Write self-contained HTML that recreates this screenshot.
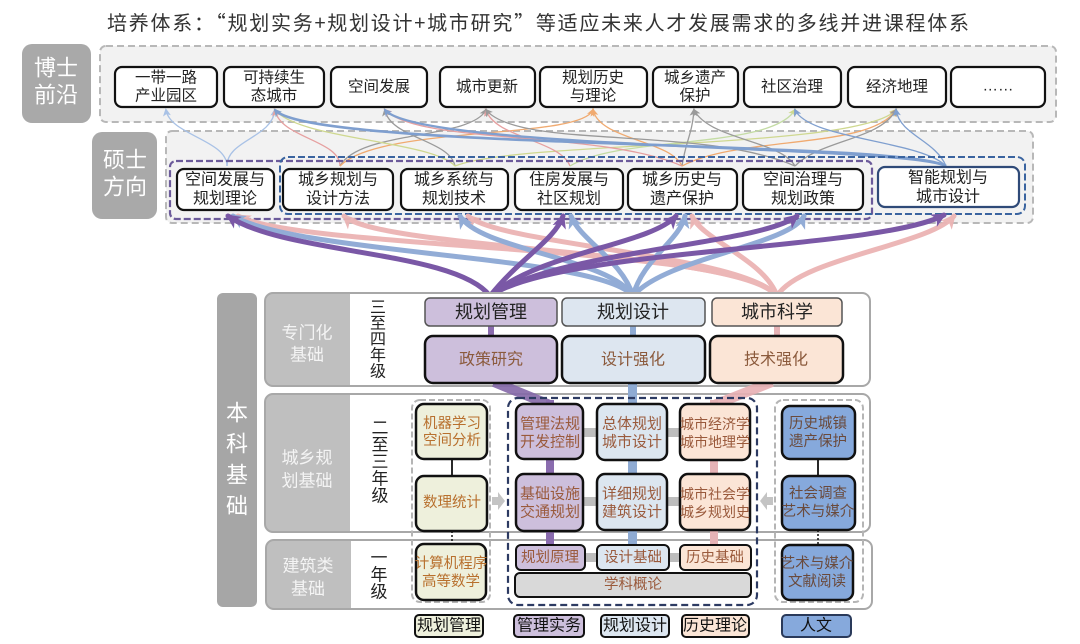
<!DOCTYPE html>
<html><head><meta charset="utf-8"><style>
html,body{margin:0;padding:0;background:#fff;}
svg{display:block;}
</style></head><body>
<svg width="1080" height="644" viewBox="0 0 1080 644" xmlns="http://www.w3.org/2000/svg" font-family="'Liberation Sans','Noto Sans CJK SC',sans-serif">
<defs>
<marker id="ap" markerUnits="userSpaceOnUse" markerWidth="18" markerHeight="18" refX="12" refY="8" orient="auto"><path d="M0,1 L15,8 L0,15 L4,8 z" fill="#7a58a6"/></marker>
<marker id="ab" markerUnits="userSpaceOnUse" markerWidth="18" markerHeight="18" refX="12" refY="8" orient="auto"><path d="M0,1 L15,8 L0,15 L4,8 z" fill="#92acd6"/></marker>
<marker id="ak" markerUnits="userSpaceOnUse" markerWidth="18" markerHeight="18" refX="12" refY="8" orient="auto"><path d="M0,1 L15,8 L0,15 L4,8 z" fill="#ebb4b4"/></marker>
<marker id="mlb" markerUnits="userSpaceOnUse" markerWidth="9" markerHeight="9" refX="6" refY="4" orient="auto"><path d="M0,0 L8,4 L0,8 L2,4 z" fill="#a9c2e6"/></marker>
<marker id="mpk" markerUnits="userSpaceOnUse" markerWidth="9" markerHeight="9" refX="6" refY="4" orient="auto"><path d="M0,0 L8,4 L0,8 L2,4 z" fill="#e6a0a0"/></marker>
<marker id="mor" markerUnits="userSpaceOnUse" markerWidth="9" markerHeight="9" refX="6" refY="4" orient="auto"><path d="M0,0 L8,4 L0,8 L2,4 z" fill="#f0aa70"/></marker>
<marker id="mgr" markerUnits="userSpaceOnUse" markerWidth="9" markerHeight="9" refX="6" refY="4" orient="auto"><path d="M0,0 L8,4 L0,8 L2,4 z" fill="#9a9a9a"/></marker>
<marker id="myg" markerUnits="userSpaceOnUse" markerWidth="9" markerHeight="9" refX="6" refY="4" orient="auto"><path d="M0,0 L8,4 L0,8 L2,4 z" fill="#cfd890"/></marker>
<marker id="mbl" markerUnits="userSpaceOnUse" markerWidth="9" markerHeight="9" refX="6" refY="4" orient="auto"><path d="M0,0 L8,4 L0,8 L2,4 z" fill="#7f9fcf"/></marker>
</defs>
<rect x="0" y="0" width="1080" height="644" fill="#fff"/>

<!-- Title -->
<text x="538" y="30" font-size="20" fill="#333" text-anchor="middle" textLength="862" lengthAdjust="spacing" font-family="'Noto Sans CJK SC',sans-serif">培养体系：“规划实务+规划设计+城市研究”等适应未来人才发展需求的多线并进课程体系</text>

<!-- 博士 -->
<rect x="22" y="44" width="69" height="79" rx="10" fill="#a9a9a9"/>
<text x="56" y="68" font-size="22" fill="#fff" text-anchor="middle" dominant-baseline="central">博士</text>
<text x="56" y="95" font-size="22" fill="#fff" text-anchor="middle" dominant-baseline="central">前沿</text>
<rect x="100" y="46" width="956" height="76" rx="6" fill="#f2f2f2" stroke="#b8b8b8" stroke-width="2" stroke-dasharray="7 4"/>

<!-- 硕士 -->
<rect x="92" y="132" width="65" height="87" rx="10" fill="#a9a9a9"/>
<text x="125" y="160" font-size="22" fill="#fff" text-anchor="middle" dominant-baseline="central">硕士</text>
<text x="125" y="187" font-size="22" fill="#fff" text-anchor="middle" dominant-baseline="central">方向</text>
<rect x="166" y="131" width="867" height="92" rx="6" fill="#f2f2f2" stroke="#b8b8b8" stroke-width="2" stroke-dasharray="7 4"/>

<!-- thin curves between 硕士 and 博士 -->
<g fill="none" stroke-width="1.3">
<path d="M227,166 C227,140 170,135 166,110" stroke="#a9c2e6" marker-end="url(#mlb)"/>
<path d="M227,166 C227,140 272,138 275,110" stroke="#a9c2e6" marker-end="url(#mlb)"/>
<path d="M340,166 C340,140 280,138 275,110" stroke="#e6a0a0" marker-end="url(#mpk)"/>
<path d="M340,166 C360,130 470,140 486,110" stroke="#9a9a9a" marker-end="url(#mgr)"/>
<path d="M340,166 C380,125 580,140 593,110" stroke="#f0aa70" marker-end="url(#mor)"/>
<path d="M455,166 C450,140 390,138 385,110" stroke="#9a9a9a" marker-end="url(#mgr)"/>
<path d="M455,166 C430,140 300,140 275,110" stroke="#cfd890" marker-end="url(#myg)"/>
<path d="M455,166 C520,140 860,150 896,110" stroke="#cfd890" marker-end="url(#myg)"/>
<path d="M570,166 C560,140 495,138 486,110" stroke="#e6a0a0" marker-end="url(#mpk)"/>
<path d="M570,166 C620,135 770,150 795,110" stroke="#c4dca4" marker-end="url(#myg)"/>
<path d="M682,166 C670,140 600,140 593,110" stroke="#f0aa70" marker-end="url(#mor)"/>
<path d="M682,166 C686,140 692,135 694,110" stroke="#9a9a9a" marker-end="url(#mgr)"/>
<path d="M682,166 C600,130 420,145 385,110" stroke="#e6a0a0" marker-end="url(#mpk)"/>
<path d="M682,166 C740,135 870,150 896,110" stroke="#f0aa70" marker-end="url(#mor)"/>
<path d="M795,166 C780,140 710,140 694,110" stroke="#9a9a9a" marker-end="url(#mgr)"/>
<path d="M795,166 C700,125 520,150 486,110" stroke="#9a9a9a" marker-end="url(#mgr)"/>
<path d="M795,166 C820,140 880,140 896,110" stroke="#9a9a9a" marker-end="url(#mgr)"/>
<path d="M946,166 C900,140 310,150 275,110" stroke="#7f9fcf" stroke-width="2.6" marker-end="url(#mbl)"/>
<path d="M946,166 C900,145 420,150 385,110" stroke="#7f9fcf" stroke-width="2.4" marker-end="url(#mbl)"/>
<path d="M946,166 C920,140 810,140 795,110" stroke="#7f9fcf" marker-end="url(#mbl)"/>
<path d="M946,166 C935,140 900,135 896,110" stroke="#7f9fcf" marker-end="url(#mbl)"/>
</g>

<!-- 博士 boxes -->
<g fill="#fff" stroke="#111" stroke-width="2.2">
<rect x="115" y="67" width="102" height="40" rx="7"/>
<rect x="224" y="67" width="100" height="40" rx="7"/>
<rect x="331" y="67" width="96" height="40" rx="7"/>
<rect x="440" y="67" width="95" height="40" rx="7"/>
<rect x="540" y="67" width="107" height="40" rx="7"/>
<rect x="653" y="67" width="85" height="40" rx="7"/>
<rect x="744" y="67" width="97" height="40" rx="7"/>
<rect x="848" y="67" width="98" height="40" rx="7"/>
<rect x="951" y="67" width="94" height="40" rx="7"/>
</g>
<g font-size="15.5" fill="#222" text-anchor="middle" dominant-baseline="central">
<text x="166" y="78">一带一路</text><text x="166" y="96">产业园区</text>
<text x="274" y="78">可持续生</text><text x="274" y="96">态城市</text>
<text x="379" y="87">空间发展</text>
<text x="487" y="87">城市更新</text>
<text x="593" y="78">规划历史</text><text x="593" y="96">与理论</text>
<text x="695" y="78">城乡遗产</text><text x="695" y="96">保护</text>
<text x="792" y="87">社区治理</text>
<text x="897" y="87">经济地理</text>
<text x="998" y="86">……</text>
</g>

<!-- 硕士 dashed groups -->
<rect x="170" y="161" width="702" height="58" rx="6" fill="none" stroke="#6b5a9a" stroke-width="2.2" stroke-dasharray="7 3"/>
<rect x="280" y="157" width="745" height="57" rx="8" fill="none" stroke="#3a64a0" stroke-width="2" stroke-dasharray="7 3"/>

<!-- 硕士 boxes -->
<g fill="#fff" stroke="#111" stroke-width="2.2">
<rect x="177" y="169" width="97" height="41" rx="7"/>
<rect x="283" y="169" width="110" height="41" rx="7"/>
<rect x="401" y="169" width="107" height="41" rx="7"/>
<rect x="515" y="169" width="108" height="41" rx="7"/>
<rect x="628" y="169" width="109" height="41" rx="7"/>
<rect x="743" y="169" width="120" height="41" rx="7"/>
<rect x="878" y="167" width="141" height="40" rx="7" stroke="#2f4a78"/>
</g>
<g font-size="16" fill="#222" text-anchor="middle" dominant-baseline="central">
<text x="225" y="180">空间发展与</text><text x="225" y="199">规划理论</text>
<text x="338" y="180">城乡规划与</text><text x="338" y="199">设计方法</text>
<text x="454" y="180">城乡系统与</text><text x="454" y="199">规划技术</text>
<text x="569" y="180">住房发展与</text><text x="569" y="199">社区规划</text>
<text x="682" y="180">城乡历史与</text><text x="682" y="199">遗产保护</text>
<text x="803" y="180">空间治理与</text><text x="803" y="199">规划政策</text>
<text x="948" y="178">智能规划与</text><text x="948" y="197">城市设计</text>
</g>

<!-- thick arrows from 本科 to 硕士 -->
<g fill="none" stroke-width="5" stroke-linecap="round">
<g stroke="#ebb4b4" opacity="0.95">
<path d="M777,296 C740,245 300,250 238,216" marker-end="url(#ak)"/>
<path d="M777,296 C740,250 380,250 344,216" marker-end="url(#ak)"/>
<path d="M777,296 C745,255 500,245 468,216" marker-end="url(#ak)"/>
<path d="M777,296 C765,260 702,240 692,216" marker-end="url(#ak)"/>
<path d="M777,296 C800,258 930,245 954,216" marker-end="url(#ak)"/>
</g>
<g stroke="#92acd6">
<path d="M633,296 C600,255 300,255 233,216" marker-end="url(#ab)"/>
<path d="M633,296 C610,258 480,250 460,216" marker-end="url(#ab)"/>
<path d="M633,296 C622,260 580,240 571,216" marker-end="url(#ab)"/>
<path d="M633,296 C642,260 680,240 685,216" marker-end="url(#ab)"/>
<path d="M633,296 C665,258 790,245 804,216" marker-end="url(#ab)"/>
</g>
<g stroke="#7a58a6">
<path d="M490,296 C455,250 285,255 228,216" marker-end="url(#ap)"/>
<path d="M490,296 C520,258 555,240 563,216" marker-end="url(#ap)"/>
<path d="M490,296 C540,252 650,245 676,216" marker-end="url(#ap)"/>
<path d="M490,296 C560,250 760,245 797,216" marker-end="url(#ap)"/>
<path d="M490,296 C560,248 880,250 944,215" marker-end="url(#ap)"/>
</g>
</g>

<!-- 本科 column -->
<rect x="217" y="293" width="40" height="314" rx="6" fill="#a6a6a6"/>
<g font-size="22" fill="#fff" text-anchor="middle" dominant-baseline="central">
<text x="237" y="413">本</text><text x="237" y="444">科</text><text x="237" y="475">基</text><text x="237" y="506">础</text>
</g>

<!-- Row: 专门化基础 -->
<rect x="265" y="293" width="605" height="93" rx="8" fill="#fff"/>
<path d="M273,293 H350 V386 H273 Q265,386 265,378 V301 Q265,293 273,293 Z" fill="#bfbfbf"/>
<rect x="265" y="293" width="605" height="93" rx="8" fill="none" stroke="#a8a8a8" stroke-width="2"/>
<text x="307" y="333" font-size="17" fill="#f4f4f4" text-anchor="middle" dominant-baseline="central">专门化</text>
<text x="307" y="355" font-size="17" fill="#f4f4f4" text-anchor="middle" dominant-baseline="central">基础</text>
<g font-size="16" fill="#222" text-anchor="middle" dominant-baseline="central">
<text x="378" y="308">三</text><text x="378" y="324">至</text><text x="378" y="340">四</text><text x="378" y="356">年</text><text x="378" y="372">级</text>
</g>

<!-- Row: 城乡规划基础 -->
<rect x="265" y="394" width="605" height="138" rx="8" fill="#fff"/>
<path d="M273,394 H350 V532 H273 Q265,532 265,524 V402 Q265,394 273,394 Z" fill="#bfbfbf"/>
<rect x="265" y="394" width="605" height="138" rx="8" fill="none" stroke="#a8a8a8" stroke-width="2"/>
<text x="307" y="458" font-size="17" fill="#f4f4f4" text-anchor="middle" dominant-baseline="central">城乡规</text>
<text x="307" y="481" font-size="17" fill="#f4f4f4" text-anchor="middle" dominant-baseline="central">划基础</text>
<g font-size="17" fill="#222" text-anchor="middle" dominant-baseline="central">
<text x="380" y="428">二</text><text x="380" y="445">至</text><text x="380" y="462">三</text><text x="380" y="479">年</text><text x="380" y="496">级</text>
</g>

<!-- Row: 建筑类基础 -->
<rect x="266" y="540" width="606" height="69" rx="8" fill="#fff"/>
<path d="M274,540 H351 V609 H274 Q266,609 266,601 V548 Q266,540 274,540 Z" fill="#bfbfbf"/>
<rect x="266" y="540" width="606" height="69" rx="8" fill="none" stroke="#a8a8a8" stroke-width="2"/>
<text x="308" y="566" font-size="17" fill="#f4f4f4" text-anchor="middle" dominant-baseline="central">建筑类</text>
<text x="308" y="589" font-size="17" fill="#f4f4f4" text-anchor="middle" dominant-baseline="central">基础</text>
<g font-size="17" fill="#222" text-anchor="middle" dominant-baseline="central">
<text x="379" y="558">一</text><text x="379" y="575">年</text><text x="379" y="592">级</text>
</g>

<!-- colored bands -->
<line x1="491" y1="326" x2="491" y2="336" stroke="#8a6cae" stroke-width="6"/>
<line x1="633" y1="326" x2="633" y2="336" stroke="#8fabd3" stroke-width="6"/>
<line x1="777" y1="326" x2="777" y2="336" stroke="#e6b3b6" stroke-width="6"/>
<line x1="494" y1="382" x2="550" y2="405" stroke="#8468a8" stroke-width="10" opacity="0.9"/>
<line x1="772" y1="382" x2="714" y2="405" stroke="#e8b0b4" stroke-width="10" opacity="0.9"/>
<rect x="628" y="382" width="9" height="163" fill="#8fabd3"/>
<rect x="546" y="400" width="8" height="145" fill="#8a6cae"/>
<rect x="710" y="400" width="8" height="145" fill="#e6b3b6"/>

<!-- gray connectors -->
<g fill="#bdbdbd">
<rect x="583" y="428" width="14" height="9"/>
<rect x="667" y="428" width="13" height="9"/>
<rect x="583" y="497" width="14" height="9"/>
<rect x="667" y="497" width="13" height="9"/>
<rect x="585" y="553" width="12" height="9"/>
<rect x="669" y="553" width="11" height="9"/>
</g>

<!-- connectors left/right groups -->
<line x1="452" y1="459" x2="452" y2="476" stroke="#111" stroke-width="1.8"/>
<line x1="452" y1="531" x2="452" y2="544" stroke="#111" stroke-width="1.5" stroke-dasharray="2 2"/>
<line x1="818" y1="459" x2="818" y2="476" stroke="#111" stroke-width="1.8"/>
<line x1="818" y1="530" x2="818" y2="545" stroke="#111" stroke-width="1.5" stroke-dasharray="2 2"/>

<!-- gray arrows -->
<polygon points="492,497 498,497 498,492 505,501 498,510 498,505 492,505" fill="#c4c4c4"/>
<polygon points="773,497 767,497 767,492 760,501 767,510 767,505 773,505" fill="#c4c4c4"/>

<!-- dashed groups in 本科 -->
<rect x="412" y="400" width="78" height="202" rx="8" fill="none" stroke="#b5b5b5" stroke-width="2" stroke-dasharray="6 3"/>
<rect x="508" y="398" width="249" height="207" rx="10" fill="none" stroke="#2c3a62" stroke-width="2.2" stroke-dasharray="7 4"/>
<rect x="775" y="400" width="88" height="202" rx="8" fill="none" stroke="#b5b5b5" stroke-width="2" stroke-dasharray="6 3"/>

<!-- 专门化 boxes -->
<g stroke="#555" stroke-width="1.5">
<rect x="425" y="298" width="132" height="28" rx="5" fill="#cdbfdc"/>
<rect x="562" y="298" width="143" height="28" rx="5" fill="#dde6f0"/>
<rect x="712" y="298" width="130" height="28" rx="5" fill="#fbe5d6"/>
</g>
<g stroke="#111" stroke-width="2.5">
<rect x="425" y="336" width="132" height="47" rx="8" fill="#cdbfdc"/>
<rect x="562" y="336" width="143" height="47" rx="8" fill="#dde6f0"/>
<rect x="710" y="336" width="133" height="47" rx="8" fill="#fbe5d6"/>
</g>
<g font-size="18" fill="#222" text-anchor="middle" dominant-baseline="central">
<text x="491" y="312">规划管理</text><text x="633" y="312">规划设计</text><text x="777" y="312">城市科学</text>
</g>
<g font-size="16" fill="#8b5a3c" text-anchor="middle" dominant-baseline="central">
<text x="491" y="360">政策研究</text><text x="633" y="360">设计强化</text><text x="776" y="360">技术强化</text>
</g>

<!-- middle / lower boxes -->
<g stroke="#111" stroke-width="2.5">
<rect x="416" y="404" width="71" height="55" rx="8" fill="#eef0dc"/>
<rect x="416" y="476" width="71" height="55" rx="8" fill="#eef0dc"/>
<rect x="416" y="544" width="70" height="56" rx="8" fill="#eef0dc"/>
<rect x="516" y="404" width="67" height="55" rx="8" fill="#cdbfdc"/>
<rect x="597" y="404" width="70" height="56" rx="8" fill="#dce6f0"/>
<rect x="680" y="404" width="70" height="56" rx="8" fill="#fbe5d6"/>
<rect x="516" y="474" width="67" height="57" rx="8" fill="#cdbfdc"/>
<rect x="597" y="474" width="70" height="56" rx="8" fill="#dce6f0"/>
<rect x="680" y="474" width="70" height="56" rx="8" fill="#fbe5d6"/>
<rect x="782" y="406" width="73" height="53" rx="8" fill="#86a9dc"/>
<rect x="782" y="476" width="73" height="54" rx="8" fill="#86a9dc"/>
<rect x="782" y="545" width="71" height="55" rx="8" fill="#86a9dc"/>
</g>
<g stroke="#111" stroke-width="2">
<rect x="516" y="545" width="69" height="25" rx="5" fill="#cdbfdc"/>
<rect x="597" y="545" width="72" height="25" rx="5" fill="#dce6f0"/>
<rect x="680" y="545" width="71" height="25" rx="5" fill="#fbe5d6"/>
<rect x="515" y="573" width="236" height="24" rx="5" fill="#d9d9d9"/>
</g>

<g font-size="14.5" fill="#b8702e" text-anchor="middle" dominant-baseline="central">
<text x="452" y="424">机器学习</text><text x="452" y="441">空间分析</text>
<text x="452" y="503">数理统计</text>
<text x="451" y="564">计算机程序</text><text x="451" y="582">高等数学</text>
</g>
<g font-size="15" fill="#9a5a3c" text-anchor="middle" dominant-baseline="central">
<text x="550" y="424">管理法规</text><text x="550" y="442">开发控制</text>
<text x="632" y="424">总体规划</text><text x="632" y="442">城市设计</text>
<text x="715" y="424" font-size="14">城市经济学</text><text x="715" y="442" font-size="14">城市地理学</text>
<text x="550" y="494">基础设施</text><text x="550" y="512">交通规划</text>
<text x="632" y="494">详细规划</text><text x="632" y="512">建筑设计</text>
<text x="715" y="494" font-size="14">城市社会学</text><text x="715" y="512" font-size="14">城乡规划史</text>
<text x="550" y="558" font-size="14.5">规划原理</text>
<text x="633" y="558" font-size="14.5">设计基础</text>
<text x="715" y="558" font-size="14.5">历史基础</text>
<text x="633" y="585" font-size="14.5">学科概论</text>
</g>
<g font-size="14.5" fill="#6a4a3c" text-anchor="middle" dominant-baseline="central">
<text x="818" y="424">历史城镇</text><text x="818" y="442">遗产保护</text>
<text x="818" y="494">社会调查</text><text x="818" y="512">艺术与媒介</text>
<text x="817" y="564">艺术与媒介</text><text x="817" y="582">文献阅读</text>
</g>

<!-- Legend -->
<g stroke="#111" stroke-width="2">
<rect x="415" y="615" width="68" height="22" rx="4" fill="#eef0dc"/>
<rect x="514" y="615" width="70" height="22" rx="4" fill="#cdbfdc"/>
<rect x="601" y="615" width="68" height="22" rx="4" fill="#dce6f0"/>
<rect x="682" y="615" width="67" height="22" rx="4" fill="#fbe5d6"/>
<rect x="782" y="615" width="69" height="22" rx="4" fill="#86a9dc" stroke="#2a3a5a"/>
</g>
<g font-size="16" fill="#111" text-anchor="middle" dominant-baseline="central">
<text x="449" y="626">规划管理</text>
<text x="549" y="626">管理实务</text>
<text x="635" y="626">规划设计</text>
<text x="715" y="626">历史理论</text>
<text x="816" y="626">人文</text>
</g>
</svg>
</body></html>
